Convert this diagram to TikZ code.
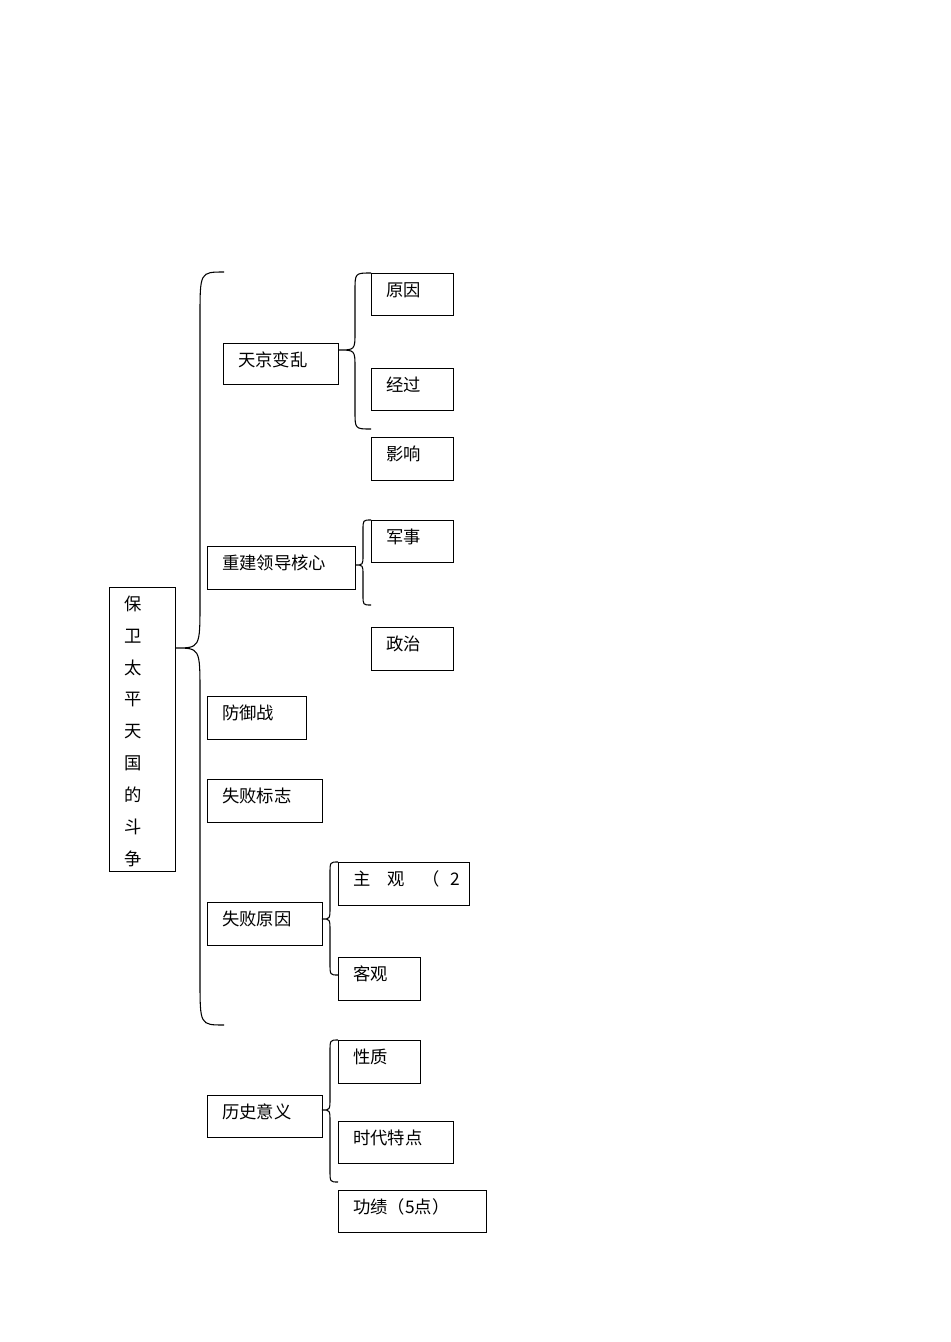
\documentclass[tikz,border=0pt]{standalone}
\usepackage{fontspec}
\newfontfamily\cjk{Noto Sans CJK SC}
\begin{document}
\begin{tikzpicture}[x=0.75pt,y=-0.75pt,
  box/.style={draw,thick,inner sep=0pt,anchor=north west},
  lbl/.style={anchor=west,inner sep=0pt,font=\cjk\fontsize{13}{15}\selectfont},
  br/.style={draw,thick}]
\useasboundingbox (0,0) rectangle (950,1342);
\newcommand{\bx}[6]{\node[box,minimum width=#4*0.75pt,minimum height=#5*0.75pt] (#1) at (#2,#3) {};
  \node[lbl] (#1t) at (#2+15,#3+17) {#6};}
% brace: xe,ytop,xb,xtip,ytip,ybot,r
\newcommand{\mybrace}[7]{\draw[br] (#1,#2) .. controls (#3,#2) .. (#3,#2+#7) -- (#3,#5-#7) .. controls (#3,#5) .. (#4,#5)
  .. controls (#3,#5) .. (#3,#5+#7) -- (#3,#6-#7) .. controls (#3,#6) .. (#1,#6);}
\node[box,minimum width=66*0.75pt,minimum height=284*0.75pt] (main) at (109,587) {};
\foreach \c [count=\i from 0] in {保,卫,太,平,天,国,的,斗,争}
  \node[lbl,anchor=center] (m\i) at (133,604+31.8*\i) {\c};
\mybrace{224}{272}{200}{175}{648}{1025}{45}
\bx{tj}{223}{343}{115}{41}{天京变乱}
\bx{yy}{371}{273}{82}{42}{原因}
\bx{jg}{371}{368}{82}{42}{经过}
\bx{yx}{371}{437}{82}{43}{影响}
\mybrace{371}{273}{355}{338}{350}{429}{18}
\bx{cj}{207}{546}{148}{43}{重建领导核心}
\bx{js}{371}{520}{82}{42}{军事}
\bx{zz}{371}{627}{82}{43}{政治}
\mybrace{371}{520}{363}{355}{565}{605}{10}
\bx{fy}{207}{696}{99}{43}{防御战}
\bx{sb}{207}{779}{115}{43}{失败标志}
\bx{sy}{207}{902}{115}{43}{失败原因}
\bx{zg}{338}{862}{131}{43}{主\hspace{1em}观\hspace{1em}（\hspace{0.6em}2}
\bx{kg}{338}{957}{82}{43}{客观}
\mybrace{338}{862}{330}{322}{919}{975}{12}
\bx{ls}{207}{1095}{115}{42}{历史意义}
\bx{xz}{338}{1040}{82}{43}{性质}
\bx{sd}{338}{1121}{115}{42}{时代特点}
\bx{gj}{338}{1190}{148}{42}{功绩（5点）}
\mybrace{338}{1040}{330}{322}{1110}{1182}{12}
\end{tikzpicture}
\end{document}
